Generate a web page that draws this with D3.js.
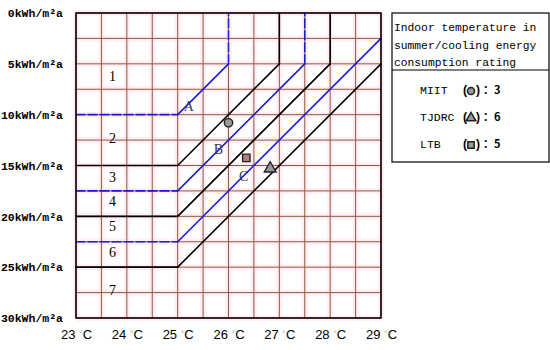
<!DOCTYPE html>
<html>
<head>
<meta charset="utf-8">
<script src="https://cdn.jsdelivr.net/npm/d3@7"></script>
<style>
  body { margin: 0; background: #fff; }
  svg text { font-family: "Liberation Mono", "DejaVu Sans Mono", monospace; }
</style>
</head>
<body>
<div id="viz-container"></div>
<script>
let width = 550;
let height = 350;

// data
let tempTicks = [23, 24, 25, 26, 27, 28, 29];
let energyTicks = [0, 5, 10, 15, 20, 25, 30];
let gridTemps = d3.range(23, 29.01, 0.5);
let gridEnergy = d3.range(0, 30.01, 2.5);

// rating boundaries, [temperature, kWh/m2a]
let boundaryColors = ['blue', 'black', 'blue', 'black', 'blue', 'black'];
let boundaryPoints = [
  [[23, 10], [25, 10], [26, 5], [26, 0]],
  [[23, 15], [25, 15], [27, 5], [27, 0]],
  [[23, 17.5], [25, 17.5], [27.5, 5], [27.5, 0]],
  [[23, 20], [25, 20], [28, 5], [28, 0]],
  [[23, 22.5], [25, 22.5], [29, 2.5]],
  [[23, 25], [25, 25], [29, 5]]
];
let lineLetters = ['A', 'B', 'C'];
let letterPos = [[25.22, 9.3], [25.8, 13.6], [26.3, 16.2]];

let ratingLabels = ['1', '2', '3', '4', '5', '6', '7'];
let ratingPos = [6.4, 12.5, 16.3, 18.7, 21.1, 23.7, 27.4];

let sources = ['MIIT', 'TJDRC', 'LTB'];
let sourceShapes = ['circle', 'triangle', 'square'];
let sourceRatings = [3, 6, 5];
let sourceTemp = [26.0, 26.82, 26.35];
let sourceEnergy = [10.8, 15.3, 14.25];

let viz = d3.select('#viz-container')
  .append('svg')
  .attr('width', width)
  .attr('height', height);

let x = d3.scaleLinear().domain([23, 29]).range([76, 381]);
let y = d3.scaleLinear().domain([0, 30]).range([13, 318]);

// grid, pale pink glow underneath
let grid = viz.append('g');
gridTemps.forEach(function(t) {
  grid.append('line').attr('x1', x(t)).attr('x2', x(t)).attr('y1', y(0)).attr('y2', y(30))
    .attr('stroke', '#ffe8f2').attr('stroke-width', 6).style('opacity', 0.7);
});
gridEnergy.forEach(function(e) {
  grid.append('line').attr('x1', x(23)).attr('x2', x(29)).attr('y1', y(e)).attr('y2', y(e))
    .attr('stroke', '#ffe8f2').attr('stroke-width', 6).style('opacity', 0.7);
});
gridTemps.forEach(function(t) {
  grid.append('line').attr('x1', x(t)).attr('x2', x(t)).attr('y1', y(0)).attr('y2', y(30))
    .attr('stroke', '#94573a').attr('stroke-width', 1);
});
gridEnergy.forEach(function(e) {
  grid.append('line').attr('x1', x(23)).attr('x2', x(29)).attr('y1', y(e)).attr('y2', y(e))
    .attr('stroke', '#94573a').attr('stroke-width', 1);
});

// boundary lines: segments, blue horizontal/vertical runs are dashed
let segs = [];
boundaryPoints.forEach(function(pts, i) {
  for (let k = 0; k < pts.length - 1; k++) {
    let a = pts[k], b = pts[k + 1];
    let straight = a[0] == b[0] || a[1] == b[1];
    segs.push({ a: a, b: b, blue: boundaryColors[i] == 'blue', dashed: boundaryColors[i] == 'blue' && straight });
  }
});
viz.selectAll('.boundary').data(segs).enter()
  .append('line')
  .attr('class', 'boundary')
  .attr('x1', d => x(d.a[0])).attr('y1', d => y(d.a[1]))
  .attr('x2', d => x(d.b[0])).attr('y2', d => y(d.b[1]))
  .attr('stroke', d => d.blue ? '#1c1cd0' : '#000')
  .attr('stroke-width', 1.6)
  .attr('stroke-linecap', 'round')
  .attr('stroke-dasharray', d => d.dashed ? '9,3' : null);

// frame
viz.append('rect')
  .attr('x', x(23)).attr('y', y(0))
  .attr('width', x(29) - x(23)).attr('height', y(30) - y(0))
  .attr('fill', 'none').attr('stroke', '#000').attr('stroke-width', 1.5);

// letters on lines
viz.selectAll('.letter').data(lineLetters).enter()
  .append('text')
  .attr('x', (d, i) => x(letterPos[i][0]))
  .attr('y', (d, i) => y(letterPos[i][1]))
  .attr('text-anchor', 'middle').attr('dominant-baseline', 'middle')
  .style('font-family', '"Liberation Serif", serif')
  .attr('font-size', 14)
  .attr('fill', '#33336a')
  .text(d => d);

// rating numbers
viz.selectAll('.rating').data(ratingLabels).enter()
  .append('text')
  .attr('x', x(23.72))
  .attr('y', (d, i) => y(ratingPos[i]))
  .attr('text-anchor', 'middle').attr('dominant-baseline', 'middle')
  .style('font-family', '"Liberation Serif", serif')
  .attr('font-size', 14)
  .text(d => d);

// markers
let symbolType = { circle: d3.symbolCircle, triangle: d3.symbolTriangle, square: d3.symbolSquare };
let symbolSize = { circle: 55, triangle: 60, square: 55 };
viz.selectAll('.marker').data(sources).enter()
  .append('path')
  .attr('transform', (d, i) => 'translate(' + x(sourceTemp[i]) + ',' + y(sourceEnergy[i]) + ')')
  .attr('d', (d, i) => d3.symbol().type(symbolType[sourceShapes[i]]).size(symbolSize[sourceShapes[i]])())
  .attr('fill', (d, i) => sourceShapes[i] == 'square' ? '#b08080' : '#999')
  .attr('stroke', '#222').attr('stroke-width', 1.4);

// axes
let yAxis = d3.axisLeft(y).tickValues(energyTicks).tickSize(0).tickPadding(13)
  .tickFormat(d => d + 'kWh/m²a');
let yG = viz.append('g').attr('transform', 'translate(' + x(23) + ',0)').call(yAxis);
yG.select('.domain').remove();
yG.selectAll('text').style('font-family', '"Liberation Mono", monospace')
  .attr('font-size', 11.5).attr('font-weight', 'bold').attr('fill', '#000');

let xAxis = d3.axisBottom(x).tickValues(tempTicks).tickSize(0).tickPadding(12).tickFormat(d => '');
let xG = viz.append('g').attr('transform', 'translate(0,' + y(30) + ')').call(xAxis);
xG.select('.domain').remove();
xG.selectAll('.tick text').each(function(d) {
  let t = d3.select(this);
  t.style('font-family', '"Liberation Sans", Arial, sans-serif').attr('font-size', 13).attr('fill', '#000');
  t.append('tspan').text(d + ' ');
  t.append('tspan').text('°').attr('fill', '#aaa').attr('font-size', 9).attr('dy', -2);
  t.append('tspan').text('C').attr('dy', 2);
});

// legend box
let lg = viz.append('g');
lg.append('rect').attr('x', 392).attr('y', 13).attr('width', 157).attr('height', 149)
  .attr('fill', '#fff').attr('stroke', '#000').attr('stroke-width', 1.2);
lg.append('line').attr('x1', 392).attr('x2', 549).attr('y1', 70).attr('y2', 70)
  .attr('stroke', '#000').attr('stroke-width', 1.2);
let titleLines = ['Indoor temperature in', 'summer/cooling energy', 'consumption rating'];
lg.selectAll('.ltitle').data(titleLines).enter()
  .append('text')
  .attr('x', 394).attr('y', (d, i) => 31 + i * 17.5)
  .attr('font-size', 11.3)
  .text(d => d);

sources.forEach(function(s, i) {
  let cy = 91 + i * 27;
  lg.append('text').attr('x', 420).attr('y', cy).attr('dominant-baseline', 'middle')
    .attr('font-size', 11.5).text(s);
  lg.append('text').attr('x', 463).attr('y', cy).attr('dominant-baseline', 'middle')
    .style('font-family', '"Liberation Sans", sans-serif').attr('font-weight', 'bold')
    .attr('font-size', 12).text('(');
  lg.append('text').attr('x', 476).attr('y', cy).attr('dominant-baseline', 'middle')
    .style('font-family', '"Liberation Sans", sans-serif').attr('font-weight', 'bold')
    .attr('font-size', 12).text(')');
  lg.append('text').attr('x', 483).attr('y', cy).attr('dominant-baseline', 'middle')
    .style('font-family', '"Noto Sans CJK SC", sans-serif').attr('font-weight', 'bold')
    .attr('font-size', 11).text('：' + sourceRatings[i]);
  lg.append('path')
    .attr('transform', 'translate(471,' + cy + ')')
    .attr('d', d3.symbol().type(symbolType[sourceShapes[i]]).size(40)())
    .attr('fill', '#999').attr('stroke', '#222').attr('stroke-width', 1.5);
});
</script>
</body>
</html>
